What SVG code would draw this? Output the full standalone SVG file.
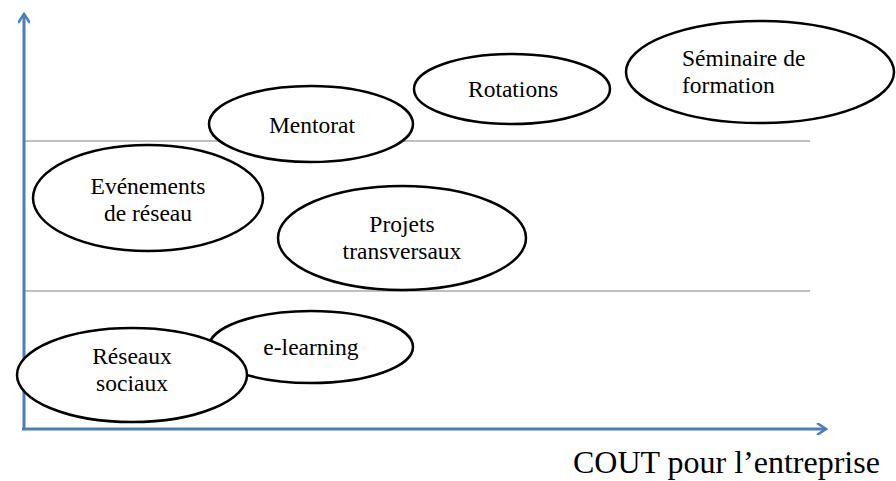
<svg xmlns="http://www.w3.org/2000/svg" width="896" height="481" viewBox="0 0 896 481">
<style>
.node ellipse{fill:#fff;stroke:#000;stroke-width:2.5}
.grid{stroke:#bfbfbf;stroke-width:2}
.axis{stroke:#4a7ebb;stroke-width:3;fill:none}
</style>
<defs>
<marker id="arr" markerWidth="12" markerHeight="12" refX="10" refY="6" orient="auto" markerUnits="userSpaceOnUse">
<path d="M1,0 L10,6 L1,12" fill="none" stroke="#4a7ebb" stroke-width="2.5"/>
</marker>
</defs>
<g id="grid">
<line class="grid" x1="24" y1="141" x2="810" y2="141"/>
<line class="grid" x1="24" y1="291" x2="810" y2="291"/>
</g>
<g id="axes">
<line class="axis" x1="24" y1="430" x2="24" y2="14" marker-end="url(#arr)"/>
<line class="axis" x1="22" y1="429" x2="826" y2="429" marker-end="url(#arr)"/>
</g>
<g font-family="Liberation Serif, Times New Roman, serif" font-size="23.5" fill="#000" text-anchor="middle">
<g id="n-seminaire" class="node"><ellipse cx="760" cy="72" rx="134" ry="51"/><text x="682" y="66" text-anchor="start">Séminaire de</text><text x="682" y="93" text-anchor="start">formation</text></g>
<g id="n-rotations" class="node"><ellipse cx="512" cy="89" rx="98" ry="35"/><text x="513" y="97">Rotations</text></g>
<g id="n-mentorat" class="node"><ellipse cx="311" cy="124" rx="102" ry="38"/><text x="312" y="133">Mentorat</text></g>
<g id="n-evenements" class="node"><ellipse cx="148" cy="198" rx="115" ry="53"/><text x="148" y="194">Evénements</text><text x="148" y="221">de réseau</text></g>
<g id="n-projets" class="node"><ellipse cx="402" cy="238" rx="124" ry="52"/><text x="402" y="232">Projets</text><text x="402" y="259">transversaux</text></g>
<g id="n-elearning" class="node"><ellipse cx="311" cy="347" rx="102" ry="36"/><text x="311" y="355">e-learning</text></g>
<g id="n-reseaux" class="node"><ellipse cx="132" cy="375" rx="115" ry="47"/><text x="132" y="364">Réseaux</text><text x="132" y="391">sociaux</text></g>
<text x="573" y="473" font-size="32" text-anchor="start">COUT pour l’entreprise</text>
</g>
</svg>
